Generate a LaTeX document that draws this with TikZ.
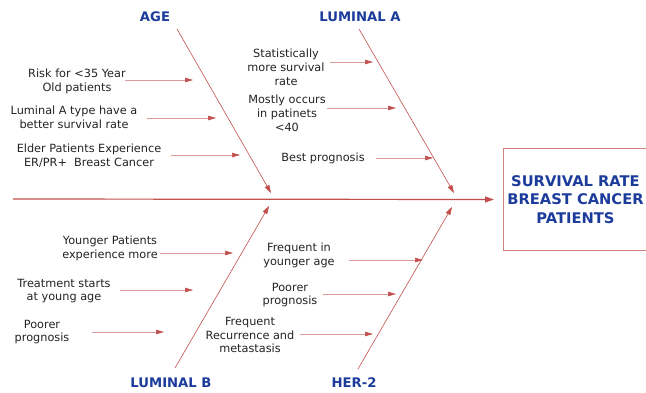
\documentclass[tikz,border=0pt]{standalone}
\usepackage{fontspec}
\setmainfont{DejaVu Sans}
\usetikzlibrary{arrows.meta, positioning}
\definecolor{bonered}{HTML}{C0504D}
\definecolor{twigred}{HTML}{DE9A9B}
\definecolor{headblue}{HTML}{1C3C9C}
\definecolor{txtgray}{HTML}{222222}

\begin{document}
\begin{tikzpicture}[x=1pt, y=-1pt,
    cause/.style={font=\fontsize{11.3}{13.8}\selectfont, text=txtgray, align=center, inner sep=0pt},
    head/.style={font=\fontsize{13.2}{15}\selectfont\bfseries, text=headblue, inner sep=0pt},
    bone/.style={draw=bonered, line width=0.6pt, -{Triangle[length=8pt,width=5pt]}},
    twig/.style={draw=twigred, line width=0.6pt, -{Triangle[length=8pt,width=4.5pt,color=bonered]}},
    spine/.style={draw=bonered, line width=1.2pt, -{Triangle[length=9pt,width=6pt]}}]
    \useasboundingbox (0,0) rectangle (646,392);

    % effect box and spine
    \node[draw=bonered!70, line width=1pt, minimum width=144pt, minimum height=102pt,
          anchor=north west, align=center, text=headblue,
          font=\fontsize{14.7}{18.5}\selectfont\bfseries] (effect) at (503,148)
          {SURVIVAL RATE\\BREAST CANCER\\PATIENTS};
    \coordinate (tail) at (13,199);
    \draw[spine, shorten >=9pt] (tail) -- (effect.west);

    % category heads
    \node[head] (age) at (155,17) {AGE};
    \node[head] (luma) at (360,17) {LUMINAL A};
    \node[head] (lumb) at (171,383) {LUMINAL B};
    \node[head] (her) at (354,383) {HER-2};

    % main bones
    \coordinate (age1) at (177,29);  \coordinate (age2) at (271,193);
    \coordinate (luma1) at (359,29); \coordinate (luma2) at (454,193);
    \coordinate (lumb1) at (175,368); \coordinate (lumb2) at (269,206);
    \coordinate (her1) at (358,369);  \coordinate (her2) at (452,207);
    \draw[bone] (age1) -- (age2);
    \draw[bone] (luma1) -- (luma2);
    \draw[bone] (lumb1) -- (lumb2);
    \draw[bone] (her1) -- (her2);

    % age
    \node[cause] (a1) at (77,81.5) {Risk for <35 Year\\Old patients};
    \node[cause] (a2) at (74,117) {Luminal A type have a\\better survival rate};
    \node[cause] (a3) at (89,155.5) {Elder Patients Experience\\ER/PR+\ \ Breast Cancer};
    \coordinate (a1s) at (125,80);  \coordinate (a1e) at (193,80);
    \coordinate (a2s) at (147,118); \coordinate (a2e) at (216,118);
    \coordinate (a3s) at (171,155); \coordinate (a3e) at (240,155);
    \draw[twig] (a1s) -- (a1e);
    \draw[twig] (a2s) -- (a2e);
    \draw[twig] (a3s) -- (a3e);

    % luminal a
    \node[cause] (la1) at (286,67) {Statistically\\more survival\\rate};
    \node[cause] (la2) at (287,113.5) {Mostly occurs\\in patinets\\<40};
    \node[cause] (la3) at (323,158) {Best prognosis};
    \coordinate (la1s) at (330,62);  \coordinate (la1e) at (373,62);
    \coordinate (la2s) at (327,108); \coordinate (la2e) at (396,108);
    \coordinate (la3s) at (376,158); \coordinate (la3e) at (433,158);
    \draw[twig] (la1s) -- (la1e);
    \draw[twig] (la2s) -- (la2e);
    \draw[twig] (la3s) -- (la3e);

    % luminal b
    \node[cause] (lb1) at (110,248) {Younger Patients\\experience more};
    \node[cause] (lb2) at (64,291) {Treatment starts\\at young age};
    \node[cause] (lb3) at (42,332) {Poorer\\prognosis};
    \coordinate (lb1s) at (160,253); \coordinate (lb1e) at (233,253);
    \coordinate (lb2s) at (120,290); \coordinate (lb2e) at (193,290);
    \coordinate (lb3s) at (92,332);  \coordinate (lb3e) at (164,332);
    \draw[twig] (lb1s) -- (lb1e);
    \draw[twig] (lb2s) -- (lb2e);
    \draw[twig] (lb3s) -- (lb3e);

    % her-2
    \node[cause] (h1) at (299,255) {Frequent in\\younger age};
    \node[cause] (h2) at (290,295) {Poorer\\prognosis};
    \node[cause] (h3) at (250,335) {Frequent\\Recurrence and\\metastasis};
    \coordinate (h1s) at (349,260); \coordinate (h1e) at (423,260);
    \coordinate (h2s) at (323,294); \coordinate (h2e) at (396,294);
    \coordinate (h3s) at (300,334); \coordinate (h3e) at (373,334);
    \draw[twig] (h1s) -- (h1e);
    \draw[twig] (h2s) -- (h2e);
    \draw[twig] (h3s) -- (h3e);
\end{tikzpicture}
\end{document}
